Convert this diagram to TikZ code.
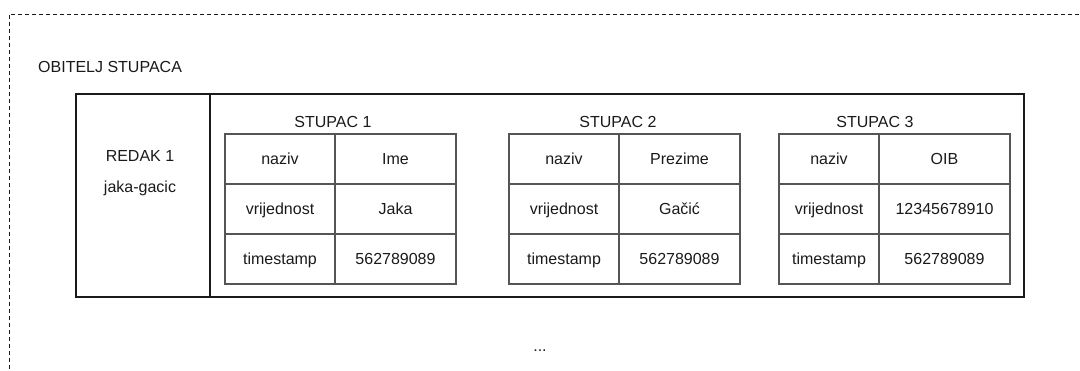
\documentclass[tikz,border=0pt]{standalone}
\usepackage{fontspec}
\setmainfont{Liberation Sans}
\definecolor{ink}{HTML}{1A1A1A}
\definecolor{grid}{HTML}{555555}
\begin{document}
\begin{tikzpicture}[x=1pt,y=-1pt,
  every node/.style={font=\fontsize{16}{19}\selectfont, text=ink, text height=13pt, text depth=1.5pt},
  lbl/.style={inner sep=0pt},
  cell/.style={draw=grid, line width=1.2pt, inner sep=0pt, outer sep=0pt, minimum height=50pt},
  outerbox/.style={draw=ink, line width=1.6pt, inner sep=0pt, outer sep=0pt},
  frame/.style={draw=ink, line width=0.9pt, dash pattern=on 4pt off 3pt}]
\useasboundingbox (0,0) rectangle (1080,371);
% dashed frame
\draw[frame] (1100,14) -- (9,14) -- (9,400);
\node[lbl, anchor=west] (fam) at (38,67) {OBITELJ STUPACA};
% outer row box
\node[outerbox, minimum width=948pt, minimum height=203pt] (row) at (550,195.5) {};
\coordinate (div) at (210,0);
\draw[draw=ink, line width=1.6pt] (row.north -| div) -- (row.south -| div);
\node[lbl] (redak) at (140,156) {REDAK 1};
\node[lbl] (key) at (140,187) {jaka-gacic};
% column 1
\node[lbl] (s1) at (333,122) {STUPAC 1};
\node[cell, minimum width=110pt] (a1) at (280,159) {naziv};
\node[cell, minimum width=121pt] (b1) at (395.5,159) {Ime};
\node[cell, minimum width=110pt] (a2) at (280,209) {vrijednost};
\node[cell, minimum width=121pt] (b2) at (395.5,209) {Jaka};
\node[cell, minimum width=110pt] (a3) at (280,259) {timestamp};
\node[cell, minimum width=121pt] (b3) at (395.5,259) {562789089};
% column 2
\node[lbl] (s2) at (618,122) {STUPAC 2};
\node[cell, minimum width=110pt] (c1) at (564,159) {naziv};
\node[cell, minimum width=121pt] (d1) at (679.5,159) {Prezime};
\node[cell, minimum width=110pt] (c2) at (564,209) {vrijednost};
\node[cell, minimum width=121pt] (d2) at (679.5,209) {Gačić};
\node[cell, minimum width=110pt] (c3) at (564,259) {timestamp};
\node[cell, minimum width=121pt] (d3) at (679.5,259) {562789089};
% column 3
\node[lbl] (s3) at (875,122) {STUPAC 3};
\node[cell, minimum width=100pt] (e1) at (829,159) {naziv};
\node[cell, minimum width=131pt] (f1) at (944.5,159) {OIB};
\node[cell, minimum width=100pt] (e2) at (829,209) {vrijednost};
\node[cell, minimum width=131pt] (f2) at (944.5,209) {12345678910};
\node[cell, minimum width=100pt] (e3) at (829,259) {timestamp};
\node[cell, minimum width=131pt] (f3) at (944.5,259) {562789089};
% ellipsis
\node[lbl] (more) at (540,346) {...};
\end{tikzpicture}
\end{document}
